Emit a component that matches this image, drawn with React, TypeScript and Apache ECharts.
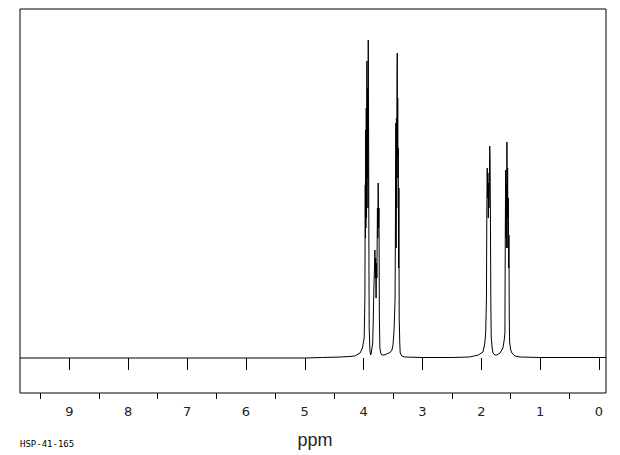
import React, { useEffect, useRef } from "react";
import * as echarts from "echarts";

// Chemical shift (ppm) and intensity (arbitrary units)
const shiftPpm: number[] = [
  9.84, 5.0, 4.7, 4.4, 4.23, 4.15, 4.06, 4.02, 3.99, 3.978, 3.972, 3.968, 3.964, 3.961, 3.955, 3.95,
  3.944, 3.938, 3.932, 3.926, 3.921, 3.915, 3.91, 3.905, 3.893, 3.881, 3.87, 3.845, 3.835, 3.825,
  3.815, 3.808, 3.8, 3.795, 3.788, 3.78, 3.774, 3.765, 3.758, 3.752, 3.745, 3.738, 3.732, 3.723,
  3.71, 3.69, 3.655, 3.61, 3.57, 3.524, 3.502, 3.485, 3.472, 3.465, 3.458, 3.451, 3.447, 3.442,
  3.437, 3.432, 3.428, 3.424, 3.42, 3.416, 3.411, 3.405, 3.4, 3.395, 3.385, 3.378, 3.349, 3.3, 3.0,
  2.5, 2.2, 2.05, 1.97, 1.94, 1.925, 1.912, 1.905, 1.899, 1.893, 1.887, 1.881, 1.875, 1.869, 1.862,
  1.856, 1.85, 1.844, 1.838, 1.831, 1.815, 1.8, 1.77, 1.734, 1.68, 1.632, 1.61, 1.598, 1.592, 1.586,
  1.58, 1.575, 1.569, 1.564, 1.558, 1.552, 1.546, 1.54, 1.534, 1.53, 1.524, 1.518, 1.5, 1.479, 1.43,
  1.34, 1.0, -0.12,
];
const intensity: number[] = [
  0, 0, 0.5, 1, 1.5, 2, 5, 10, 20, 60, 173, 120, 228, 130, 250, 140,
  297, 180, 270, 150, 318, 230, 110, 30, 8, 3, 5, 15, 40, 70,
  90, 108, 80, 100, 60, 95, 80, 150, 120, 175, 130, 150, 40, 10,
  5, 3, 3, 4, 5, 7, 12, 25, 45, 60, 150, 235, 110, 240,
  150, 280, 305, 200, 260, 180, 210, 90, 170, 40, 15, 5, 2, 1, 0.5,
  0.5, 1, 3, 6, 15, 25, 60, 150, 190, 160, 185, 140, 175, 150, 170,
  212, 195, 140, 60, 21, 10, 5, 3, 3, 5, 10, 18, 25, 120, 188,
  120, 175, 110, 216, 140, 190, 110, 160, 90, 123, 40, 16, 8, 5, 2,
  1, 0.5, 0.5,
];

const majorTicks: number[] = [0, 1, 2, 3, 4, 5, 6, 7, 8, 9];
const minorTicks: number[] = [0.5, 1.5, 2.5, 3.5, 4.5, 5.5, 6.5, 7.5, 8.5, 9.5];
const xMin = -0.12;
const xMax = 9.84;

export default function App() {
  const ref = useRef<HTMLDivElement>(null);
  useEffect(() => {
    document.body.style.margin = "0";
    if (!ref.current) return;
    const chart = echarts.init(ref.current, null, { renderer: "svg" });
    const data = shiftPpm.map((p, i) => [p, intensity[i]]);
    chart.setOption({
      animation: false,
      backgroundColor: "#ffffff",
      grid: {
        left: 20,
        right: 14,
        top: 9,
        bottom: 62,
        show: true,
        borderColor: "#000",
        borderWidth: 1,
        backgroundColor: "transparent",
      },
      xAxis: [
        {
          type: "value",
          min: xMin,
          max: xMax,
          inverse: true,
          position: "bottom",
          axisLine: { show: false },
          splitLine: { show: false },
          axisTick: {
            show: true,
            customValues: majorTicks,
            length: 12,
            lineStyle: { color: "#000", width: 1 },
          },
          axisLabel: {
            show: true,
            customValues: majorTicks,
            margin: 12,
            color: "#222",
            fontFamily: "DejaVu Sans",
            fontSize: 13,
            formatter: (v: number) => String(Math.round(v)),
          },
        },
        {
          type: "value",
          min: xMin,
          max: xMax,
          inverse: true,
          position: "bottom",
          axisLine: { show: false },
          splitLine: { show: false },
          axisTick: {
            show: true,
            customValues: minorTicks,
            length: 6,
            lineStyle: { color: "#000", width: 1 },
          },
          axisLabel: { show: false },
        },
      ],
      yAxis: {
        type: "value",
        min: -35,
        max: 349,
        show: false,
        splitLine: { show: false },
      },
      series: [
        {
          type: "line",
          xAxisIndex: 0,
          data,
          symbol: "none",
          lineStyle: { color: "#000", width: 1 },
          clip: true,
        },
      ],
      graphic: [
        {
          type: "text",
          x: 315,
          y: 449,
          style: {
            text: "ppm",
            fill: "#222",
            fontFamily: "Liberation Sans",
            fontSize: 18,
            textAlign: "center",
            textVerticalAlign: "bottom",
          },
        },
        {
          type: "text",
          x: 20,
          y: 448,
          style: {
            text: "HSP-41-165",
            fill: "#000",
            fontFamily: "DejaVu Sans Mono",
            fontSize: 9,
            textAlign: "left",
            textVerticalAlign: "bottom",
          },
        },
      ],
    });
    return () => chart.dispose();
  }, []);
  return (
    <div
      ref={ref}
      style={{ position: "absolute", left: 0, top: 0, width: 620, height: 455 }}
    />
  );
}
